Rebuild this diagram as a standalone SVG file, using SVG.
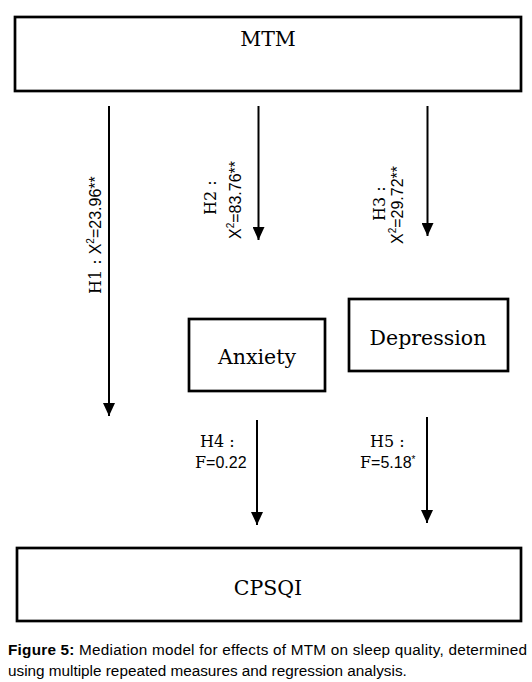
<svg xmlns="http://www.w3.org/2000/svg" width="532" height="682" viewBox="0 0 532 682">
<style>
.box{fill:#fff;stroke:#000;stroke-width:2.7}
.lbl{font-family:"DejaVu Serif","Liberation Serif",serif;font-size:20.5px;fill:#000;text-anchor:middle}
.conn{stroke:#000;stroke-width:2;fill:none}
.ser{font-family:"DejaVu Serif","Liberation Serif",serif}
.san{font-family:"Liberation Sans",Arial,sans-serif}
.el{font-size:16px;fill:#000}
.cap{font-family:"Liberation Sans",Arial,sans-serif;font-size:15.3px;fill:#000}
</style>
<defs>
<marker id="ahd" markerUnits="userSpaceOnUse" markerWidth="14" markerHeight="12" viewBox="0 0 14 12" refX="13" refY="6" orient="auto">
<path d="M0,0 L13,6 L0,12 Z" fill="#000"/>
</marker>
</defs>
<g id="node-mtm"><rect class="box" x="15" y="17" width="506" height="74"/><text class="lbl" x="268" y="46">MTM</text></g>
<g id="node-anxiety"><rect class="box" x="189" y="319" width="136" height="72"/><text class="lbl" x="257" y="364">Anxiety</text></g>
<g id="node-depression"><rect class="box" x="349" y="299" width="159" height="72"/><text class="lbl" x="428" y="345">Depression</text></g>
<g id="node-cpsqi"><rect class="box" x="17" y="548" width="504" height="73"/><text class="lbl" x="268" y="595">CPSQI</text></g>
<g id="connectors">
<line class="conn" x1="109" y1="106" x2="109" y2="416" marker-end="url(#ahd)"/>
<line class="conn" x1="258.5" y1="106" x2="258.5" y2="240" marker-end="url(#ahd)"/>
<line class="conn" x1="427.5" y1="106" x2="427.5" y2="236" marker-end="url(#ahd)"/>
<line class="conn" x1="257" y1="420" x2="257" y2="525" marker-end="url(#ahd)"/>
<line class="conn" x1="427" y1="417" x2="427" y2="523" marker-end="url(#ahd)"/>
</g>
<g id="edge-labels" class="el">
<text transform="translate(101,294) rotate(-90)"><tspan class="ser">H1 : </tspan><tspan class="san">X</tspan><tspan class="san" font-size="10" dy="-7">2</tspan><tspan class="san" dy="7">=23.96**</tspan></text>
<text class="ser" transform="translate(216,215) rotate(-90)">H2 :</text>
<text transform="translate(241,239) rotate(-90)"><tspan class="san">X</tspan><tspan class="san" font-size="10" dy="-7">2</tspan><tspan class="san" dy="7">=83.76**</tspan></text>
<text class="ser" transform="translate(385,221) rotate(-90)">H3 :</text>
<text transform="translate(403,244) rotate(-90)"><tspan class="san">X</tspan><tspan class="san" font-size="10" dy="-7">2</tspan><tspan class="san" dy="7">=29.72**</tspan></text>
<text x="200" y="447" class="ser">H4 :</text>
<text x="195" y="468"><tspan class="ser">F</tspan><tspan class="san">=0.22</tspan></text>
<text x="370" y="447" class="ser">H5 :</text>
<text x="360" y="468"><tspan class="ser">F</tspan><tspan class="san">=5.18</tspan><tspan class="san" font-size="10" dy="-5">*</tspan></text>
</g>
<g id="caption">
<text class="cap" x="8" y="655" textLength="519" lengthAdjust="spacing"><tspan font-weight="bold">Figure 5:</tspan> Mediation model for effects of MTM on sleep quality, determined</text>
<text class="cap" x="8" y="676">using multiple repeated measures and regression analysis.</text>
</g>
</svg>
